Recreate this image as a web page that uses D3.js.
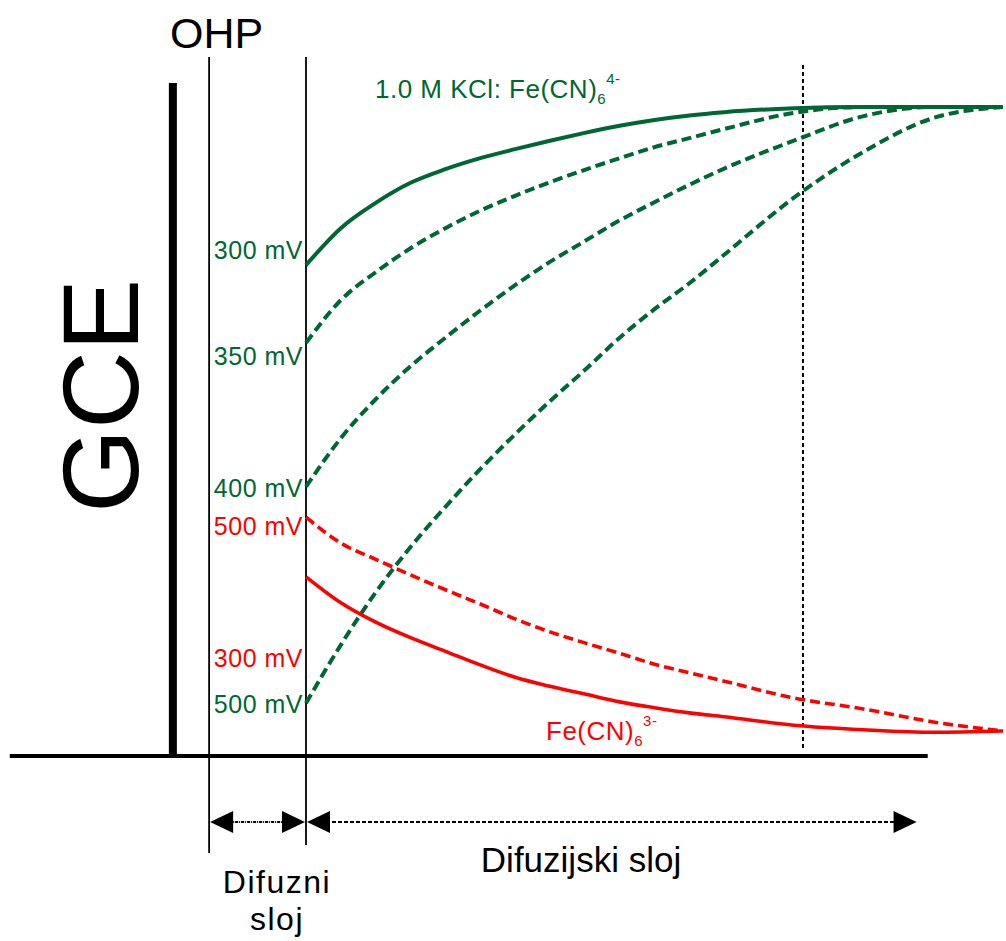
<!DOCTYPE html>
<html><head><meta charset="utf-8">
<script src="https://cdn.jsdelivr.net/npm/d3@7"></script>
<style>
body{margin:0;background:#fff}
svg{display:block}
text{font-family:"Liberation Sans",Arial,Helvetica,sans-serif}
</style>
</head><body>
<svg id="chart" width="1006" height="941"></svg>
<script>
// ---- data (distance from diffuse-layer boundary, % of bulk concentration) ----
const distance   = [0, 5, 10, 15, 20, 25, 30, 35, 40, 45, 50, 55, 60, 70, 80, 90, 100];
const ferro300   = [75.6, 81.3, 85.2, 88.3, 90.4, 92.1, 93.5, 94.8, 96.0, 97.1, 98.0, 98.7, 99.2, 99.8, 100, 100, 100];
const ferro350   = [63.6, 70.2, 74.5, 78.2, 81.3, 84.0, 86.3, 88.4, 90.3, 92.1, 93.8, 95.2, 96.6, 99.1, 100, 100, 100];
const ferro400   = [41.4, 48.9, 54.9, 60.0, 64.4, 68.6, 72.5, 76.1, 79.3, 82.5, 85.3, 88.0, 90.5, 94.8, 98.6, 100, 100];
const ferro500   = [8.0, 17.0, 25.1, 32.1, 38.3, 44.1, 49.5, 54.6, 59.4, 64.4, 68.8, 72.8, 77.2, 86.0, 93.1, 98.3, 100];
const ferri500   = [36.7, 32.7, 30.2, 27.8, 25.5, 23.3, 21.0, 19.0, 17.3, 15.7, 14.0, 12.7, 11.4, 8.8, 7.1, 5.1, 3.7];
const ferri300   = [27.5, 23.5, 20.5, 18.1, 16.0, 13.9, 12.0, 10.6, 9.4, 8.2, 7.3, 6.5, 5.9, 4.6, 3.9, 3.5, 3.7];

// layer boundaries in distance units
const gcePos = -19.1, ohpPos = -13.9, diffEnd = 0, markerPos = 71.3;
const axisStart = -42.5, axisEnd = 89.2, arrowEnd = 87.6;

const green = "#006633", red = "#ff0000";

const seriesGreen = [
  {name:"300 mV", values: ferro300, dash:null},
  {name:"350 mV", values: ferro350, dash:"10,5"},
  {name:"400 mV", values: ferro400, dash:"10,5"},
  {name:"500 mV", values: ferro500, dash:"10,5"}
];
const seriesRed = [
  {name:"500 mV", values: ferri500, dash:"10,5"},
  {name:"300 mV", values: ferri300, dash:null}
];

const svg = d3.select("#chart");
const x = d3.scaleLinear().domain([0, 100]).range([306, 1003]);
const y = d3.scaleLinear().domain([0, 100]).range([755, 107]);

const line = d3.line()
  .x((d, i) => x(distance[i]))
  .y(d => y(d))
  .curve(d3.curveMonotoneX);

// baseline
svg.append("line")
  .attr("x1", x(axisStart)).attr("x2", x(axisEnd))
  .attr("y1", y(-0.15)).attr("y2", y(-0.15))
  .attr("stroke", "#000").attr("stroke-width", 4);

// GCE electrode bar
svg.append("line")
  .attr("x1", x(gcePos)).attr("x2", x(gcePos))
  .attr("y1", 83).attr("y2", 757)
  .attr("stroke", "#000").attr("stroke-width", 8);

// OHP and diffuse-layer boundary lines
svg.append("line")
  .attr("x1", x(ohpPos)).attr("x2", x(ohpPos))
  .attr("y1", 57).attr("y2", 853)
  .attr("stroke", "#000").attr("stroke-width", 1.8);
svg.append("line")
  .attr("x1", x(diffEnd)).attr("x2", x(diffEnd))
  .attr("y1", 57).attr("y2", 845)
  .attr("stroke", "#000").attr("stroke-width", 1.8);

// dotted boundary of diffusion layer
svg.append("line")
  .attr("x1", x(markerPos)).attr("x2", x(markerPos))
  .attr("y1", 65).attr("y2", 751)
  .attr("stroke", "#000").attr("stroke-width", 2)
  .attr("stroke-dasharray", "4,3");

// curves
svg.selectAll("path.green").data(seriesGreen).join("path")
  .attr("class", "green")
  .attr("d", d => line(d.values))
  .attr("fill", "none").attr("stroke", green).attr("stroke-width", 4)
  .attr("stroke-dasharray", d => d.dash);
svg.selectAll("path.red").data(seriesRed).join("path")
  .attr("class", "red")
  .attr("d", d => line(d.values))
  .attr("fill", "none").attr("stroke", red).attr("stroke-width", 3.6)
  .attr("stroke-dasharray", d => d.dash);

// potential labels
const labelX = x(diffEnd) - 3;
const labels = [
  {t:"300 mV", c:green, v:ferro300[0], dy:-6},
  {t:"350 mV", c:green, v:ferro350[0], dy:22},
  {t:"400 mV", c:green, v:ferro400[0], dy:10},
  {t:"500 mV", c:red,   v:ferri500[0], dy:18},
  {t:"300 mV", c:red,   v:ferri300[0], dy:90},
  {t:"500 mV", c:green, v:ferro500[0], dy:10}
];
svg.selectAll("text.mv").data(labels).join("text")
  .attr("class", "mv")
  .attr("x", labelX)
  .attr("y", d => y(d.v) + d.dy)
  .attr("text-anchor", "end")
  .attr("fill", d => d.c)
  .attr("font-size", 25)
  .attr("letter-spacing", 0.5)
  .text(d => d.t);

// species labels
const t1 = svg.append("text").attr("x", 375).attr("y", 98)
  .attr("fill", green).attr("font-size", 26).attr("letter-spacing", 0.5);
t1.append("tspan").text("1.0 M KCl: Fe(CN)");
t1.append("tspan").attr("font-size", 15).attr("dy", 6).text("6");
t1.append("tspan").attr("font-size", 15).attr("dy", -20).text("4-");

const t2 = svg.append("text").attr("x", 546).attr("y", 740)
  .attr("fill", red).attr("font-size", 26).attr("letter-spacing", 0.5);
t2.append("tspan").text("Fe(CN)");
t2.append("tspan").attr("font-size", 15).attr("dy", 6).text("6");
t2.append("tspan").attr("font-size", 15).attr("dy", -20).text("3-");

// GCE label
svg.append("text")
  .attr("transform", "translate(138,396) rotate(-90)")
  .attr("text-anchor", "middle")
  .attr("font-size", 108)
  .attr("fill", "#000")
  .text("GCE");

// OHP label
svg.append("text").attr("x", 170).attr("y", 48)
  .attr("font-size", 43).attr("fill", "#000").text("OHP");

// arrows
const arrowY = 822;
function head(tipX, dir) {
  const L = 23, H = 11;
  svg.append("path")
    .attr("d", `M${tipX},${arrowY} L${tipX - dir*L},${arrowY - H} L${tipX - dir*L},${arrowY + H} Z`)
    .attr("fill", "#000");
}
svg.append("line")
  .attr("x1", x(ohpPos) + 20).attr("x2", x(diffEnd) - 20)
  .attr("y1", arrowY).attr("y2", arrowY)
  .attr("stroke", "#000").attr("stroke-width", 2)
  .attr("stroke-dasharray", "3,1,1,1");
head(x(ohpPos) + 1, -1);
head(x(diffEnd) - 1, 1);

svg.append("line")
  .attr("x1", x(diffEnd) + 20).attr("x2", x(arrowEnd) - 20)
  .attr("y1", arrowY).attr("y2", arrowY)
  .attr("stroke", "#000").attr("stroke-width", 2)
  .attr("stroke-dasharray", "4,2");
head(x(diffEnd) + 1, -1);
head(x(arrowEnd), 1);

// layer names
svg.append("text").attr("x", 277).attr("y", 893)
  .attr("text-anchor", "middle").attr("font-size", 32).attr("letter-spacing", 1.5).text("Difuzni");
svg.append("text").attr("x", 277).attr("y", 930)
  .attr("text-anchor", "middle").attr("font-size", 32).attr("letter-spacing", 1.5).text("sloj");
svg.append("text").attr("x", 581).attr("y", 872)
  .attr("text-anchor", "middle").attr("font-size", 35).text("Difuzijski sloj");
</script>
</body></html>
